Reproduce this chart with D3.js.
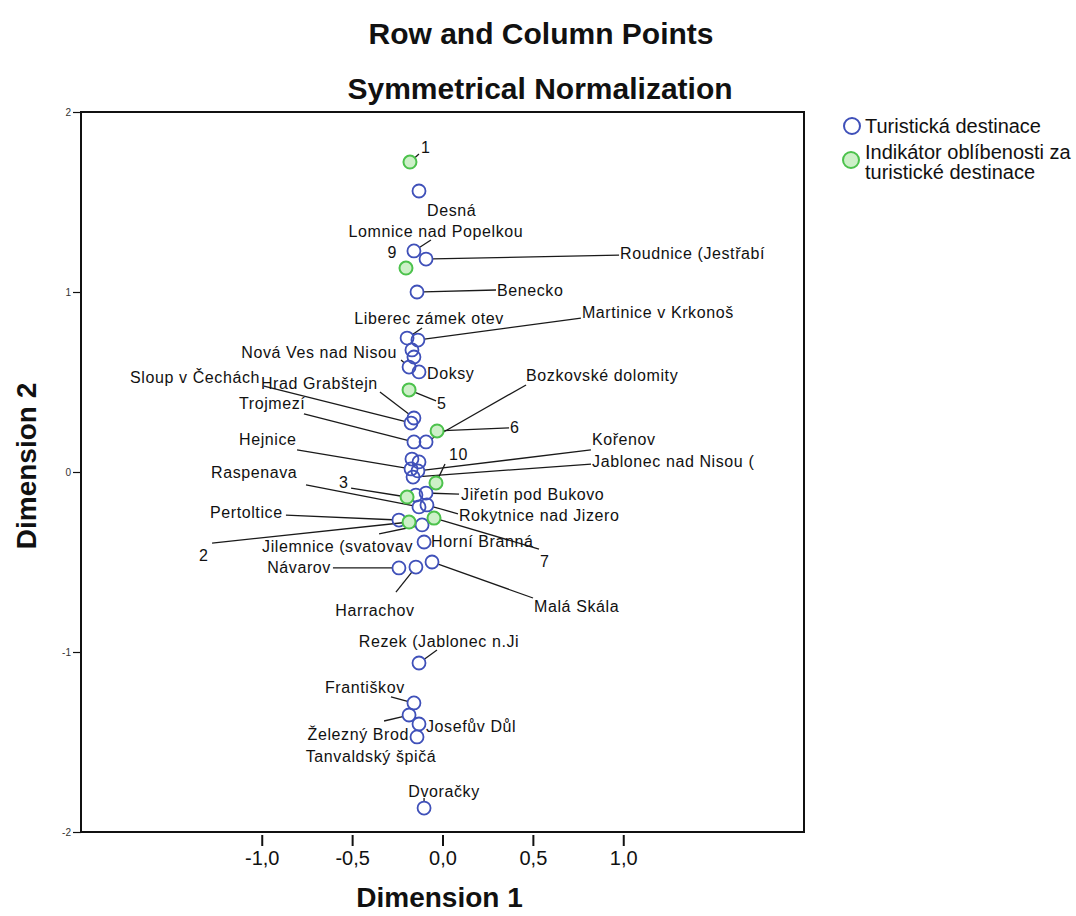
<!DOCTYPE html>
<html>
<head>
<meta charset="utf-8">
<script src="https://cdn.jsdelivr.net/npm/d3@7"></script>
<style>
  body { margin: 0; background: #fff; }
  svg text { font-family: "Liberation Sans", Arial, sans-serif; }
</style>
</head>
<body>
<svg id="chart" width="1076" height="916"></svg>
<script>
// Row points: tourist destinations (Dimension 1, Dimension 2)
const destinationNames = [
  "Desná", "Lomnice nad Popelkou", "Roudnice (Jestřabí", "Benecko",
  "Liberec zámek otev", "Martinice v Krkonoš", "", "", "Nová Ves nad Nisou", "Doksy",
  "Sloup v Čechách", "Hrad Grabštejn", "Trojmezí", "Bozkovské dolomity",
  "", "", "Hejnice", "Kořenov", "Jablonec nad Nisou (",
  "Jiřetín pod Bukovo", "", "Raspenava", "Rokytnice nad Jizero",
  "Pertoltice", "Jilemnice (svatovav", "Horní Branná",
  "Návarov", "Harrachov", "Malá Skála",
  "Rezek (Jablonec n.Ji", "Františkov", "Železný Brod", "Josefův Důl",
  "Tanvaldský špičá", "Dvoračky"
];
const destinationDim1 = [
  -0.130, -0.158, -0.091, -0.141,
  -0.196, -0.136, -0.169, -0.158, -0.185, -0.130,
  -0.174, -0.158, -0.158, -0.091,
  -0.169, -0.130, -0.174, -0.136, -0.163,
  -0.091, -0.147, -0.130, -0.086,
  -0.241, -0.113, -0.102,
  -0.241, -0.147, -0.058,
  -0.130, -0.158, -0.185, -0.130,
  -0.141, -0.102
];
const destinationDim2 = [
  1.561, 1.228, 1.183, 1.000,
  0.744, 0.733, 0.678, 0.639, 0.583, 0.556,
  0.272, 0.300, 0.167, 0.167,
  0.072, 0.056, 0.017, 0.006, -0.028,
  -0.117, -0.128, -0.194, -0.183,
  -0.267, -0.294, -0.389,
  -0.533, -0.528, -0.500,
  -1.061, -1.283, -1.350, -1.400,
  -1.472, -1.867
];

// Column points: popularity indicators
const indicatorNames = ["1", "9", "5", "6", "10", "3", "2", "7"];
const indicatorDim1 = [-0.180, -0.202, -0.185, -0.030, -0.036, -0.196, -0.185, -0.047];
const indicatorDim2 = [1.722, 1.133, 0.456, 0.228, -0.061, -0.139, -0.278, -0.256];

const xTickValues = [-1.0, -0.5, 0.0, 0.5, 1.0];
const yTickValues = [2, 1, 0, -1, -2];

const legendLabels = [["Turistická destinace"], ["Indikátor oblíbenosti za", "turistické destinace"]];

// Label placement in pixels relative to each marker: text offset, anchor, leader end
const labelPlacement = {
  "Desná": { dx: 8, dy: 19, anchor: "start" },
  "Lomnice nad Popelkou": { dx: 22, dy: -19, anchor: "middle", lead: [17, -11] },
  "Roudnice (Jestřabí": { dx: 194, dy: -6, anchor: "start", lead: [193, -4] },
  "Benecko": { dx: 80, dy: -2, anchor: "start", lead: [79, -2] },
  "Liberec zámek otev": { dx: 22, dy: -20, anchor: "middle", lead: [15, -10] },
  "Martinice v Krkonoš": { dx: 164, dy: -28, anchor: "start", lead: [163, -22] },
  "Nová Ves nad Nisou": { dx: -12, dy: -15, anchor: "end", lead: [-8, -7] },
  "Doksy": { dx: 8, dy: 2, anchor: "start" },
  "Sloup v Čechách": { dx: -281, dy: -46, anchor: "start", lead: [-147, -37] },
  "Hrad Grabštejn": { dx: -153, dy: -35, anchor: "start", lead: [-34, -26] },
  "Trojmezí": { dx: -175, dy: -38, anchor: "start", lead: [-110, -28] },
  "Bozkovské dolomity": { dx: 100, dy: -66, anchor: "start", lead: [100, -57] },
  "Hejnice": { dx: -172, dy: -29, anchor: "start", lead: [-114, -19] },
  "Kořenov": { dx: 174, dy: -31, anchor: "start", lead: [173, -21] },
  "Jablonec nad Nisou (": { dx: 179, dy: -16, anchor: "start", lead: [178, -13] },
  "Jiřetín pod Bukovo": { dx: 35, dy: 1, anchor: "start", lead: [33, 1] },
  "Raspenava": { dx: -208, dy: -34, anchor: "start", lead: [-113, -22] },
  "Rokytnice nad Jizero": { dx: 32, dy: 11, anchor: "start", lead: [31, 9] },
  "Pertoltice": { dx: -189, dy: -8, anchor: "start", lead: [-113, -5] },
  "Jilemnice (svatovav": { dx: -9, dy: 22, anchor: "end", lead: [-43, 9] },
  "Horní Branná": { dx: 7, dy: -1, anchor: "start" },
  "Návarov": { dx: -68, dy: 0, anchor: "end", lead: [-66, 0] },
  "Harrachov": { dx: -41, dy: 43, anchor: "middle", lead: [-20, 25] },
  "Malá Skála": { dx: 102, dy: 44, anchor: "start", lead: [101, 36] },
  "Rezek (Jablonec n.Ji": { dx: 20, dy: -21, anchor: "middle", lead: [18, -13] },
  "Františkov": { dx: -89, dy: -15, anchor: "start", lead: [-23, -6] },
  "Železný Brod": { dx: 0, dy: 19, anchor: "end", lead: [-25, 6] },
  "Josefův Důl": { dx: 7, dy: 2, anchor: "start" },
  "Tanvaldský špičá": { dx: -46, dy: 20, anchor: "middle" },
  "Dvoračky": { dx: 20, dy: -17, anchor: "middle", lead: [0, -10] },
  "1": { dx: 11, dy: -15, anchor: "start", lead: [9, -8] },
  "9": { dx: -9, dy: -16, anchor: "end" },
  "5": { dx: 28, dy: 14, anchor: "start", lead: [27, 11] },
  "6": { dx: 73, dy: -3, anchor: "start", lead: [72, -3] },
  "10": { dx: 13, dy: -28, anchor: "start", lead: [9, -19] },
  "3": { dx: -68, dy: -15, anchor: "start", lead: [-56, -9] },
  "2": { dx: -210, dy: 33, anchor: "start", lead: [-197, 21] },
  "7": { dx: 106, dy: 43, anchor: "start", lead: [105, 31] }
};

const BLUE = "#3f50b9";
const GREEN = "#4cc24c";
const GREEN_FILL = "#cdf0c8";
const R = 6.5;

const svg = d3.select("#chart");
const plot = { left: 81, right: 804, top: 112, bottom: 832 };

const x = d3.scaleLinear().domain([-2, 2]).range([plot.left, plot.right]);
const y = d3.scaleLinear().domain([-2, 2]).range([plot.bottom, plot.top]);

const locale = d3.formatLocale({ decimal: ",", thousands: " ", grouping: [3], currency: ["", ""], minus: "-" });
const fmtX = locale.format(".1f");
const fmtY = locale.format("d");

// Titles
svg.append("text").attr("x", 541).attr("y", 44).attr("text-anchor", "middle")
  .attr("font-size", 30).attr("font-weight", "bold").attr("fill", "#111").text("Row and Column Points");
svg.append("text").attr("x", 540).attr("y", 99).attr("text-anchor", "middle")
  .attr("font-size", 30).attr("font-weight", "bold").attr("fill", "#111").text("Symmetrical Normalization");

// Frame
svg.append("rect").attr("x", plot.left).attr("y", plot.top)
  .attr("width", plot.right - plot.left).attr("height", plot.bottom - plot.top)
  .attr("fill", "none").attr("stroke", "#111").attr("stroke-width", 2);

// X axis
const xAxis = d3.axisBottom(x).tickValues(xTickValues).tickFormat(fmtX).tickSize(11).tickPadding(5);
const gx = svg.append("g").attr("transform", `translate(0,${plot.bottom + 3})`).call(xAxis);
gx.select(".domain").remove();
gx.selectAll("line").attr("stroke", "#111").attr("stroke-width", 2);
gx.selectAll("text").attr("font-size", 20).attr("fill", "#111");

// Y axis
const yAxis = d3.axisLeft(y).tickValues(yTickValues).tickFormat(fmtY).tickSize(8).tickPadding(2);
const gy = svg.append("g").attr("transform", `translate(${plot.left},0)`).call(yAxis);
gy.select(".domain").remove();
gy.selectAll("line").attr("stroke", "#111").attr("stroke-width", 1.2);
gy.selectAll("text").attr("font-size", 10).attr("fill", "#333");

// Axis titles
svg.append("text").attr("x", x(0) - 3).attr("y", 907).attr("text-anchor", "middle")
  .attr("font-size", 28).attr("font-weight", "bold").attr("fill", "#111").text("Dimension 1");
svg.append("text").attr("transform", `translate(36,${y(0) - 6}) rotate(-90)`).attr("text-anchor", "middle")
  .attr("font-size", 28).attr("font-weight", "bold").attr("fill", "#111").text("Dimension 2");

// Point records
const destinations = destinationNames.map((name, i) => ({ name, d1: destinationDim1[i], d2: destinationDim2[i], kind: "row" }));
const indicators = indicatorNames.map((name, i) => ({ name, d1: indicatorDim1[i], d2: indicatorDim2[i], kind: "col" }));
const allPoints = destinations.concat(indicators);

// Leader lines
const leaders = svg.append("g").attr("stroke", "#1a1a1a").attr("stroke-width", 1.3).attr("fill", "none");
allPoints.forEach(p => {
  const lp = labelPlacement[p.name];
  if (!p.name || !lp || !lp.lead) return;
  const px = x(p.d1), py = y(p.d2);
  const ex = px + lp.lead[0], ey = py + lp.lead[1];
  const len = Math.hypot(lp.lead[0], lp.lead[1]);
  if (len <= R) return;
  const sx = px + lp.lead[0] / len * R, sy = py + lp.lead[1] / len * R;
  leaders.append("line").attr("x1", sx).attr("y1", sy).attr("x2", ex).attr("y2", ey);
});

// Markers
svg.append("g").selectAll("circle").data(destinations).join("circle")
  .attr("cx", d => x(d.d1)).attr("cy", d => y(d.d2)).attr("r", R)
  .attr("fill", "none").attr("stroke", BLUE).attr("stroke-width", 1.8);
svg.append("g").selectAll("circle").data(indicators).join("circle")
  .attr("cx", d => x(d.d1)).attr("cy", d => y(d.d2)).attr("r", R)
  .attr("fill", GREEN_FILL).attr("stroke", GREEN).attr("stroke-width", 2);

// Point labels
svg.append("g").selectAll("text").data(allPoints.filter(p => p.name && labelPlacement[p.name])).join("text")
  .attr("x", d => x(d.d1) + labelPlacement[d.name].dx)
  .attr("y", d => y(d.d2) + labelPlacement[d.name].dy)
  .attr("text-anchor", d => labelPlacement[d.name].anchor)
  .attr("dominant-baseline", "central")
  .attr("font-family", "'DejaVu Sans', sans-serif")
  .attr("font-size", 16)
  .attr("letter-spacing", 0.6)
  .attr("fill", "#111")
  .text(d => d.name);

// Legend
const legend = svg.append("g");
legend.append("circle").attr("cx", 852).attr("cy", 126).attr("r", 8)
  .attr("fill", "none").attr("stroke", BLUE).attr("stroke-width", 2);
legend.append("circle").attr("cx", 851).attr("cy", 160).attr("r", 8)
  .attr("fill", GREEN_FILL).attr("stroke", GREEN).attr("stroke-width", 2);
legendLabels.forEach((lines, i) => {
  const t = legend.append("text").attr("y", i === 0 ? 133 : 159)
    .attr("font-size", 20).attr("fill", "#111");
  lines.forEach((ln, j) => t.append("tspan").attr("x", 865).attr("dy", j === 0 ? 0 : 20).text(ln));
});
</script>
</body>
</html>
